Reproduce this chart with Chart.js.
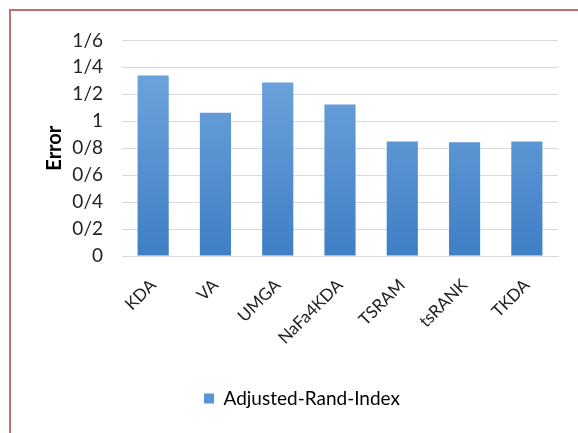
<!DOCTYPE html>
<html>
<head>
<meta charset="utf-8">
<script src="https://cdn.jsdelivr.net/npm/chart.js@4.4.1/dist/chart.umd.min.js"></script>
<style>
  html, body { margin: 0; padding: 0; background: #fff; overflow: hidden; }
  .frame {
    position: absolute; left: 9px; top: 9px; width: 600px; height: 440px;
    border: 2px solid #c46e6a; box-sizing: border-box;
  }
  .box { position: absolute; left: 10px; top: 10px; width: 584px; height: 423px; }
</style>
</head>
<body>
<div class="frame"></div>
<div class="box"><canvas id="chart"></canvas></div>
<script>
// methods on the x axis and the error each one scores
const methods = ['KDA', 'VA', 'UMGA', 'NaFa4KDA', 'TSRAM', 'tsRANK', 'TKDA'];
const errors = [1.34, 1.064, 1.287, 1.125, 0.85, 0.845, 0.85];
// y tick texts, one for every 0.2 step
const yTickLabels = ['0', '0/2', '0/4', '0/6', '0/8', '1', '1/2', '1/4', '1/6'];
const seriesName = 'Adjusted-Rand-Index';

const FONT = 'Lato, "Open Sans", sans-serif';

function barFill(context) {
    const area = context.chart.chartArea;
    if (!area) return '#5b9bd5';
    const g = context.chart.ctx.createLinearGradient(0, area.top, 0, area.bottom);
    g.addColorStop(0, '#74a9df');
    g.addColorStop(1, '#3f7fc5');
    return g;
}

const ctx = document.getElementById('chart').getContext('2d');
new Chart(ctx, {
    type: 'bar',
    data: {
        labels: methods,
        datasets: [{
            label: seriesName,
            data: errors,
            backgroundColor: barFill,
            borderWidth: 0,
            barPercentage: 0.5,
            categoryPercentage: 1
        }]
    },
    options: {
        responsive: true,
        maintainAspectRatio: false,
        animation: false,
        layout: { padding: { top: 30, left: 0, right: 0, bottom: 15 } },
        plugins: {
            tooltip: { enabled: false },
            legend: {
                position: 'bottom',
                labels: {
                    boxWidth: 10, boxHeight: 10, padding: 10,
                    color: '#222',
                    font: { family: FONT, size: 19 },
                    generateLabels: function () {
                        return [{ text: seriesName, fillStyle: '#5b94d6', strokeStyle: '#5b94d6', lineWidth: 0 }];
                    }
                }
            }
        },
        scales: {
            x: {
                grid: { display: false, drawTicks: false },
                border: { color: '#d9d9d9', width: 1 },
                ticks: {
                    minRotation: 45, maxRotation: 45, padding: 19,
                    color: '#222',
                    font: { family: FONT, size: 17 }
                },
                afterFit: function (scale) { scale.height = 123; }
            },
            y: {
                min: 0, max: 1.6,
                grid: { color: '#d9d9d9', drawTicks: false },
                border: { display: false },
                ticks: {
                    stepSize: 0.2, padding: 19,
                    color: '#222',
                    font: { family: FONT, size: 19 },
                    callback: function (v) { return yTickLabels[Math.round(v / 0.2)]; }
                },
                title: {
                    display: true, text: 'Error', color: '#000',
                    font: { family: FONT, size: 20, weight: 'bold' },
                    padding: { top: 33, bottom: 0 }
                },
                afterFit: function (scale) { scale.width = 112; }
            },
            // empty strip on the right so the legend stays centred on the whole box
            side: {
                type: 'linear', position: 'right',
                ticks: { display: false },
                grid: { display: false, drawTicks: false },
                border: { display: false },
                afterFit: function (scale) { scale.width = 36; }
            }
        }
    }
});
</script>
</body>
</html>
